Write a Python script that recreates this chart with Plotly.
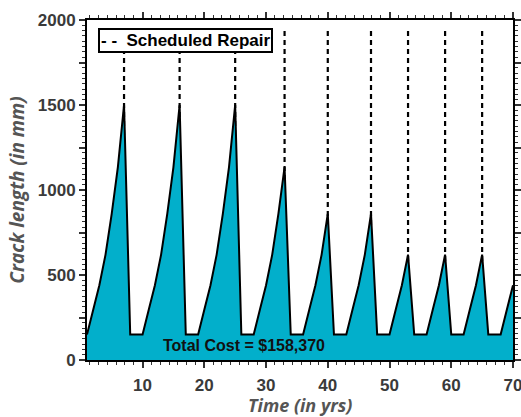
import plotly.graph_objects as go

# Crack length (mm) read at each year
years = list(range(1, 71))
crack_mm = [
    150, 295, 440, 620, 860, 1135, 1500,            # 1-7
    150, 150, 150, 295, 440, 620, 860, 1135, 1500,  # 8-16
    150, 150, 150, 295, 440, 620, 860, 1135, 1500,  # 17-25
    150, 150, 150, 295, 440, 620, 860, 1135,        # 26-33
    150, 150, 150, 295, 440, 620, 860,              # 34-40
    150, 150, 150, 295, 440, 620, 860,              # 41-47
    150, 150, 150, 295, 440, 620,                   # 48-53
    150, 150, 150, 295, 440, 620,                   # 54-59
    150, 150, 150, 295, 440, 620,                   # 60-65
    150, 150, 150, 295, 440,                        # 66-70
]
repair_years = [7, 16, 25, 33, 40, 47, 53, 59, 65]
repair_top = 1950
repair_label = "Scheduled Repair"
total_cost_label = "Total Cost = $158,370"
x_title = "Time (in yrs)"
y_title = "Crack length (in mm)"

x_ticks = [10, 20, 30, 40, 50, 60, 70]
y_tickvals = [0, 250, 500, 750, 1000, 1250, 1500, 1750, 2000]
y_ticktext = ["0", "", "500", "", "1000", "", "1500", "", "2000"]

rx, ry = [], []
for t in repair_years:
    rx += [t, t, None]
    ry += [0, repair_top, None]

fig = go.Figure()
fig.add_trace(go.Scatter(
    x=rx, y=ry, mode="lines", name=repair_label,
    line=dict(color="black", width=2.2, dash="5px,4px"),
    showlegend=False,
))
fig.add_trace(go.Scatter(
    x=years, y=crack_mm, mode="lines", fill="tozeroy",
    fillcolor="#02AFCB", line=dict(color="black", width=2),
    showlegend=False,
))

# legend box (as a bordered annotation)
fig.add_annotation(
    x=0.026, y=0.976, xref="paper", yref="paper", xanchor="left", yanchor="top",
    text="<b>- -  " + repair_label + "</b>", showarrow=False,
    font=dict(family="Liberation Sans, Arial", size=17, color="black"),
    bgcolor="white", bordercolor="black", borderwidth=2, borderpad=1,
)

fig.add_annotation(
    x=26.4, y=88, xref="x", yref="y", text="<b>" + total_cost_label + "</b>",
    showarrow=False, font=dict(family="Liberation Sans, Arial", size=16, color="#111"),
)

# x-axis title placed just below the tick labels
fig.add_annotation(
    x=0.5, y=0, xref="paper", yref="paper", xanchor="center", yanchor="top",
    yshift=-31, text="<b><i>" + x_title + "</i></b>", showarrow=False,
    font=dict(family="Open Sans", size=18, color="#555"),
)

axis_common = dict(
    showline=True, linecolor="black", linewidth=2, mirror="ticks",
    ticks="outside", ticklen=6, tickwidth=1.5, tickcolor="#333",
    showgrid=False, zeroline=False, automargin=False, ticklabeloverflow="allow",
    tickfont=dict(family="Liberation Sans, Arial", size=17, color="#3a3a3a", weight="bold"),
)

fig.update_xaxes(
    range=[1, 70], tickvals=x_ticks, **axis_common,
    minor=dict(dtick=10 / 7, ticks="outside", ticklen=3, tickcolor="#333", tickwidth=1),
    ticklabelstandoff=3,
)
fig.update_yaxes(
    range=[0, 2000], tickvals=y_tickvals, ticktext=y_ticktext, **axis_common,
    minor=dict(dtick=31.25, ticks="outside", ticklen=3, tickcolor="#333", tickwidth=1),
    title=dict(text="<b><i>" + y_title + "</i></b>", standoff=8,
               font=dict(family="Open Sans", size=19, color="#555")),
)

fig.update_layout(
    width=521, height=417,
    margin=dict(l=87, r=8, t=20, b=57),
    plot_bgcolor="white", paper_bgcolor="white",
)

fig.write_html(
    "out.html",
    config={"displayModeBar": False},
    post_script="document.body.style.margin='0';document.body.style.overflow='hidden';",
)
